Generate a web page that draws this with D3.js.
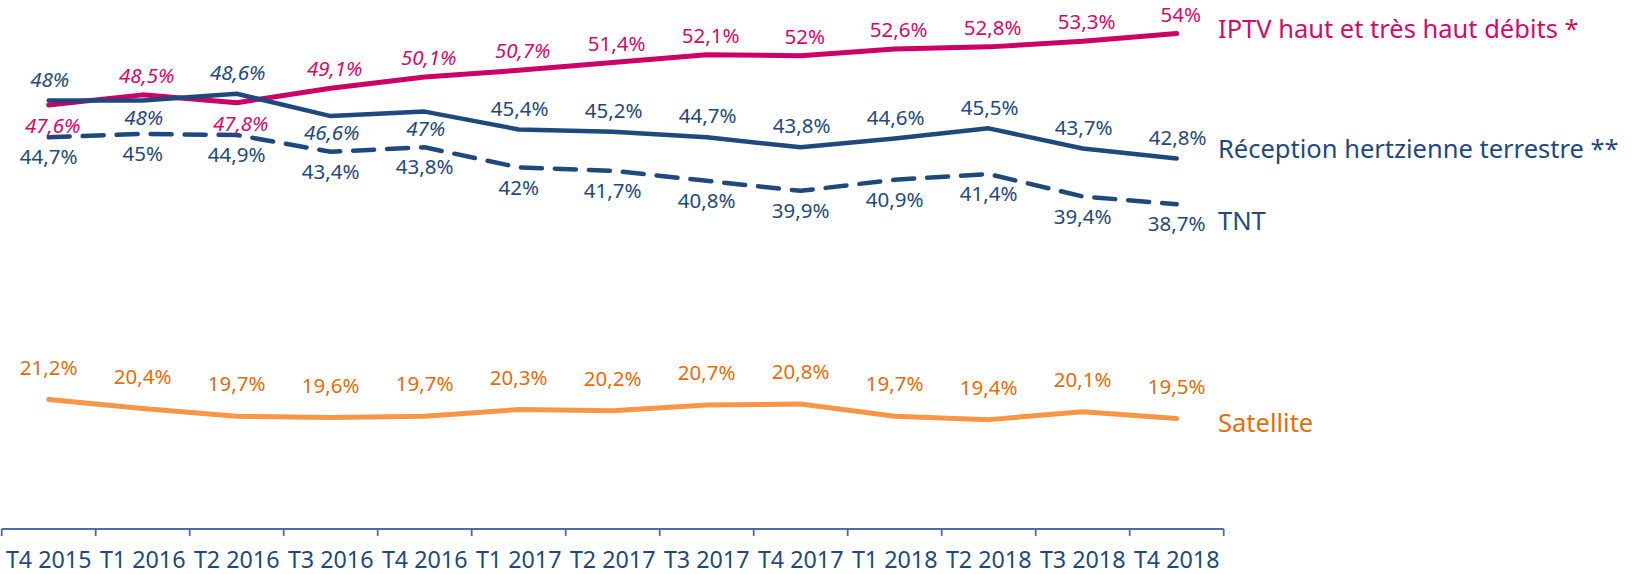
<!DOCTYPE html>
<html>
<head>
<meta charset="utf-8">
<script src="https://cdn.jsdelivr.net/npm/d3@7"></script>
<style>
  body { margin: 0; background: #fff; }
  svg text { font-family: "Noto Sans", "Open Sans", sans-serif; }
</style>
</head>
<body>
<div id="container"></div>
<script>
const categories = ['T4 2015', 'T1 2016', 'T2 2016', 'T3 2016', 'T4 2016', 'T1 2017', 'T2 2017',
  'T3 2017', 'T4 2017', 'T1 2018', 'T2 2018', 'T3 2018', 'T4 2018'];

const iptv = [47.6, 48.5, 47.8, 49.1, 50.1, 50.7, 51.4, 52.1, 52, 52.6, 52.8, 53.3, 54];
const hertzien = [48, 48, 48.6, 46.6, 47, 45.4, 45.2, 44.7, 43.8, 44.6, 45.5, 43.7, 42.8];
const tnt = [44.7, 45, 44.9, 43.4, 43.8, 42, 41.7, 40.8, 39.9, 40.9, 41.4, 39.4, 38.7];
const satellite = [21.2, 20.4, 19.7, 19.6, 19.7, 20.3, 20.2, 20.7, 20.8, 19.7, 19.4, 20.1, 19.5];

// where each data label sits: a = above, b = below
const iptvPlace = ['b', 'a', 'b', 'a', 'a', 'a', 'a', 'a', 'a', 'a', 'a', 'a', 'a'];
const hertzienPlace = ['a', 'b', 'a', 'b', 'b', 'a', 'a', 'a', 'a', 'a', 'a', 'a', 'a'];
const tntPlace = ['b', 'b', 'b', 'b', 'b', 'b', 'b', 'b', 'b', 'b', 'b', 'b', 'b'];
const satPlace = ['a', 'a', 'a', 'a', 'a', 'a', 'a', 'a', 'a', 'a', 'a', 'a', 'a'];

const seriesNames = ['IPTV haut et très haut débits *', 'Réception hertzienne terrestre **', 'TNT', 'Satellite'];

const width = 1635, height = 574;

const svg = d3.select('#container')
  .append('svg')
  .attr('width', width)
  .attr('height', height);

const x = d3.scaleBand()
  .domain(categories)
  .range([1.7, 1223.7])
  .padding(0);

const y = d3.scaleLinear()
  .domain([9.6, 57])
  .range([529, 0]);

const cx = d => x(d) + x.bandwidth() / 2;

// x axis, ticks between categories like Excel
const axisColor = '#4a6ea3';
const axis = svg.append('g').attr('transform', 'translate(0,529)');
axis.append('line')
  .attr('x1', x.range()[0]).attr('x2', x.range()[1])
  .attr('stroke', axisColor).attr('stroke-width', 1.8);
const bounds = categories.map(c => x(c)).concat([x.range()[1]]);
axis.selectAll('.tick')
  .data(bounds)
  .enter()
  .append('line')
  .attr('x1', d => d).attr('x2', d => d)
  .attr('y1', 0).attr('y2', 7)
  .attr('stroke', axisColor).attr('stroke-width', 1.8);
axis.selectAll('.lbl')
  .data(categories)
  .enter()
  .append('text')
  .attr('x', d => cx(d))
  .attr('y', 39)
  .attr('text-anchor', 'middle')
  .attr('fill', '#1f497d')
  .style('font-size', '23.3px')
  .text(d => d);

const fmt = v => String(v).replace('.', ',') + '%';

const series = [
  { name: seriesNames[0], values: iptv, place: iptvPlace, color: '#cc0066', text: '#d10a6c', width: 5, italic: 6, dx: 4, up: 19, down: 21, endDy: -4 },
  { name: seriesNames[1], values: hertzien, place: hertzienPlace, color: '#1f497d', text: '#1f497d', width: 4.5, italic: 5, dx: 1, up: 21, down: 17, endDy: -9 },
  { name: seriesNames[2], values: tnt, place: tntPlace, color: '#1f497d', text: '#1f497d', width: 4.5, italic: 0, dx: 0, up: 13, down: 20, dash: '21,13', endDy: 17 },
  { name: seriesNames[3], values: satellite, place: satPlace, color: '#f79646', text: '#e46c0a', width: 5, italic: 0, dx: 0, up: 32, down: 20, endDy: 5 }
];

const line = d3.line()
  .x((d, i) => cx(categories[i]))
  .y(d => y(d));

series.forEach(s => {
  svg.append('path')
    .datum(s.values)
    .attr('fill', 'none')
    .attr('stroke', s.color)
    .attr('stroke-width', s.width)
    .attr('stroke-linecap', 'round')
    .attr('stroke-linejoin', 'round')
    .attr('stroke-dasharray', s.dash || null)
    .attr('d', line);
});

series.forEach(s => {
  svg.append('g')
    .selectAll('text')
    .data(s.values)
    .enter()
    .append('text')
    .attr('x', (d, i) => cx(categories[i]) + s.dx)
    .attr('y', (d, i) => y(d) + (s.place[i] === 'a' ? -s.up : s.down))
    .attr('dy', '0.35em')
    .attr('text-anchor', 'middle')
    .attr('fill', s.text)
    .style('font-size', '20.5px')
    .style('font-style', (d, i) => i < s.italic ? 'italic' : 'normal')
    .text(d => fmt(d));

  const last = s.values[s.values.length - 1];
  svg.append('text')
    .attr('x', 1218)
    .attr('y', y(last) + s.endDy)
    .attr('dy', '0.35em')
    .attr('fill', s.text)
    .style('font-size', '25.5px')
    .text(s.name);
});
</script>
</body>
</html>
